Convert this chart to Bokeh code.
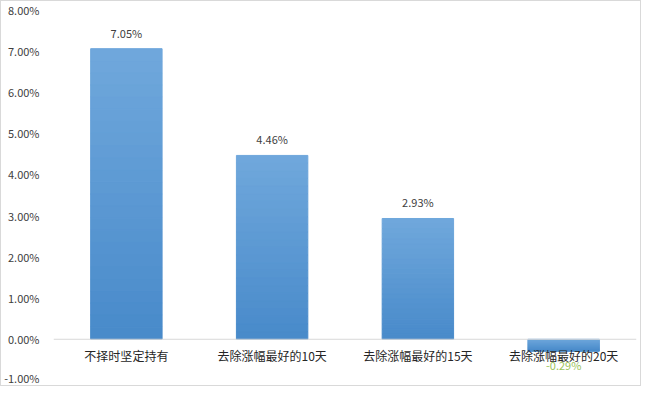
from bokeh.plotting import figure
from bokeh.models import ColumnDataSource, FixedTicker, Span
from bokeh.embed import file_html
from bokeh.resources import INLINE
from bokeh.core.properties import value

categories = ["不择时坚定持有", "去除涨幅最好的10天", "去除涨幅最好的15天", "去除涨幅最好的20天"]
values = [7.05, 4.46, 2.93, -0.29]
labels = ["7.05%", "4.46%", "2.93%", "-0.29%"]
y_ticks = [-1, 0, 1, 2, 3, 4, 5, 6, 7, 8]
y_tick_labels = ["-1.00%", "0.00%", "1.00%", "2.00%", "3.00%", "4.00%", "5.00%", "6.00%", "7.00%", "8.00%"]

FONT = "Noto Sans CJK SC"
top_rgb = (0x70, 0xa8, 0xdc)
bot_rgb = (0x48, 0x8a, 0xca)
N = 24

p = figure(width=641, height=386, x_range=categories, y_range=(-1, 8),
           output_backend="svg", toolbar_location=None,
           min_border_left=51, min_border_right=6, min_border_top=8, min_border_bottom=7)
p.styles = {"border": "1px solid #d9d9d9", "box-sizing": "border-box"}

# gradient bars built from slices of each value
xs, bots, tops, cols = [], [], [], []
for c, v in zip(categories, values):
    hi, lo = max(v, 0), min(v, 0)
    for i in range(N):
        t0 = i / N
        t1 = (i + 1) / N
        b = hi - (hi - lo) * t1
        tp = hi - (hi - lo) * t0
        f = (i + 0.5) / N
        rgb = tuple(int(round(top_rgb[k] + (bot_rgb[k] - top_rgb[k]) * f)) for k in range(3))
        xs.append(c)
        bots.append(b)
        tops.append(tp)
        cols.append("#%02x%02x%02x" % rgb)
p.vbar(x=xs, bottom=bots, top=tops, width=0.49, fill_color=cols, line_color=cols, line_width=1)

p.add_layout(Span(location=0, dimension="width", line_color="#d9d9d9", line_width=1))

# category labels drawn at the zero line
p.text(x=categories, y=[0] * len(categories), text=categories, text_align="center",
       text_baseline="middle", y_offset=16, text_font=value(FONT), text_font_size="12px",
       text_color="#262626")

src_pos = ColumnDataSource(dict(x=[c for c, v in zip(categories, values) if v >= 0],
                                y=[v for v in values if v >= 0],
                                t=[l for l, v in zip(labels, values) if v >= 0]))
p.text(x="x", y="y", text="t", source=src_pos, text_align="center", text_baseline="bottom",
       y_offset=-8, text_font=value(FONT), text_font_size="11px", text_color="#404040")
src_neg = ColumnDataSource(dict(x=[c for c, v in zip(categories, values) if v < 0],
                                y=[v for v in values if v < 0],
                                t=[l for l, v in zip(labels, values) if v < 0]))
neg = p.text(x="x", y="y", text="t", source=src_neg, text_align="center", text_baseline="middle",
             y_offset=14, text_font=value(FONT), text_font_size="11px", text_color="#9bc35a")
neg.level = "overlay"

p.xaxis.visible = False

p.yaxis.ticker = FixedTicker(ticks=y_ticks)
p.yaxis.major_label_overrides = {t: l for t, l in zip(y_ticks, y_tick_labels)}
p.yaxis.axis_line_color = None
p.yaxis.major_tick_line_color = None
p.yaxis.minor_tick_line_color = None
p.yaxis.major_label_standoff = 8
p.yaxis.major_label_text_font = FONT
p.yaxis.major_label_text_font_size = "11px"
p.yaxis.major_label_text_color = "#404040"

p.xgrid.grid_line_color = None
p.ygrid.grid_line_color = None
p.outline_line_color = None
p.background_fill_color = "white"
p.border_fill_color = "white"

open("out.html", "w").write(file_html(p, INLINE))
